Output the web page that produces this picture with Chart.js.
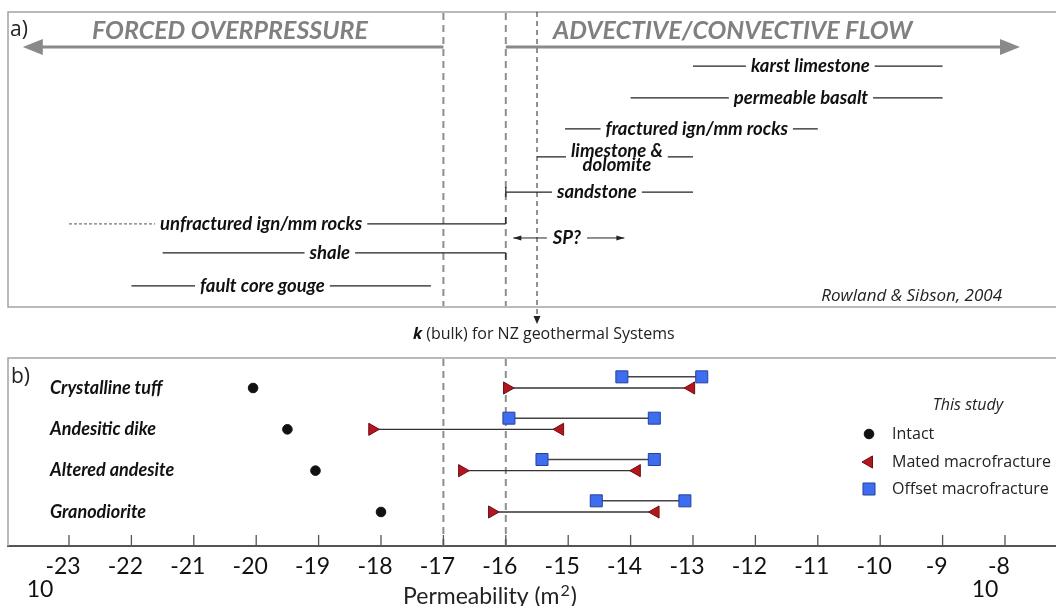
<!DOCTYPE html>
<html>
<head>
<meta charset="utf-8">
<script src="https://cdn.jsdelivr.net/npm/chart.js@4.4.0/dist/chart.umd.min.js"></script>
<style>
  html, body { margin: 0; padding: 0; background: #fff; overflow: hidden; }
  #wrap { width: 1056px; height: 606px; }
  canvas { display: block; }
</style>
</head>
<body>
<div id="wrap"><canvas id="permChart" width="1056" height="606"></canvas></div>
<script>
// log10 permeability (m²) axis
var tickValues = [-23, -22, -21, -20, -19, -18, -17, -16, -15, -14, -13, -12, -11, -10, -9, -8];

// a) literature ranges (Rowland & Sibson, 2004)
var rockNames = ['karst limestone', 'permeable basalt', 'fractured ign/mm rocks', 'limestone &|dolomite',
                 'sandstone', 'unfractured ign/mm rocks', 'shale', 'fault core gouge'];
var rockLow  = [-13, -14, -15.05, -15.5, -16, -21.6, -21.5, -22];
var rockHigh = [-9, -9, -11, -13, -13, -16, -16, -17.2];
var unfracturedTail = -23;
var spRange = [-15.88, -14.1];
var flowBoundary = [-17, -16];
var bulkK = -15.5;

// b) this study
var samples    = ['Crystalline tuff', 'Andesitic dike', 'Altered andesite', 'Granodiorite'];
var intact     = [-20.05, -19.5, -19.05, -18.0];
var matedLow   = [-15.98, -18.14, -16.7, -16.22];
var matedHigh  = [-13.03, -15.13, -13.9, -13.6];
var offsetLow  = [-14.14, -15.95, -15.42, -14.55];
var offsetHigh = [-12.86, -13.62, -13.62, -13.13];

// vertical layout: y runs downward, sample rows sit at 1..4
var rockRow = [-6.79, -6.02, -5.27, -4.59, -3.74, -2.97, -2.27, -1.47];
var spRow = -2.63;
var rockLabelAt = [-11.12, -11.27, -12.94, -14.22, -14.54, -19.92, -18.82, -19.9];
var spLabelAt = -15.02;
var offsetShift = -0.27;

var LABEL_FONT = 'italic bold 18.5px Lato';
var SAMPLE_FONT = 'italic bold 18px Lato';
var TEXT_FONT = '16px "Open Sans"';
var RED = '#b3161f', RED_EDGE = '#6e0c11';
var BLUE = '#3f6df0', BLUE_EDGE = '#23429c';

function put(ctx, str, x, y, font, color, align) {
  ctx.font = font;
  ctx.fillStyle = color;
  ctx.textAlign = align || 'left';
  ctx.textBaseline = 'middle';
  ctx.fillText(str, x, y);
}

function head(ctx, x, y, dx, dy, len, half) {
  // arrowhead with its tip at (x, y), pointing along (dx, dy)
  ctx.beginPath();
  ctx.moveTo(x, y);
  ctx.lineTo(x - dx * len - dy * half, y - dy * len + dx * half);
  ctx.lineTo(x - dx * len + dy * half, y - dy * len - dx * half);
  ctx.closePath();
  ctx.fill();
}

var datasets = [];

rockNames.forEach(function (name, i) {
  datasets.push({
    data: [{x: rockLow[i], y: rockRow[i]}, {x: rockHigh[i], y: rockRow[i]}],
    showLine: true, borderColor: '#222', borderWidth: 1.2, pointRadius: 0
  });
});
datasets.push({
  data: [{x: unfracturedTail, y: rockRow[5]}, {x: rockLow[5], y: rockRow[5]}],
  showLine: true, borderColor: '#555', borderWidth: 1, borderDash: [3, 2], pointRadius: 0
});
datasets.push({
  data: [{x: spRange[0], y: spRow}, {x: spRange[1], y: spRow}],
  showLine: true, borderColor: '#222', borderWidth: 1, pointRadius: 0
});

samples.forEach(function (name, i) {
  datasets.push({
    data: [{x: offsetLow[i], y: i + 1 + offsetShift}, {x: offsetHigh[i], y: i + 1 + offsetShift}],
    showLine: true, borderColor: '#444', borderWidth: 1.5,
    pointStyle: 'rect', pointRadius: 8.5, pointBackgroundColor: BLUE, pointBorderColor: BLUE_EDGE, pointBorderWidth: 1
  });
  datasets.push({
    data: [{x: matedLow[i], y: i + 1}, {x: matedHigh[i], y: i + 1}],
    showLine: true, borderColor: '#333', borderWidth: 1.3,
    pointStyle: 'triangle', pointRotation: [90, -90], pointRadius: 7,
    pointBackgroundColor: RED, pointBorderColor: RED_EDGE, pointBorderWidth: 1
  });
});
datasets.push({
  data: samples.map(function (s, i) { return {x: intact[i], y: i + 1}; }),
  pointStyle: 'circle', pointRadius: 4.8, pointBackgroundColor: '#111', pointBorderColor: '#111'
});

var decor = {
  id: 'decor',
  beforeDatasetsDraw: function (chart) {
    var ctx = chart.ctx, xs = chart.scales.x, area = chart.chartArea;
    ctx.save();
    // panel frames
    ctx.strokeStyle = '#a3a3a3';
    ctx.lineWidth = 1.5;
    ctx.strokeRect(area.left, 12, 1100, 295);
    ctx.beginPath();
    ctx.moveTo(area.left, area.bottom);
    ctx.lineTo(area.left, 358);
    ctx.lineTo(1056, 358);
    ctx.stroke();

    // regime boundaries
    ctx.strokeStyle = '#8e8e8e';
    ctx.lineWidth = 2;
    ctx.setLineDash([7, 5]);
    flowBoundary.forEach(function (v) {
      var x = xs.getPixelForValue(v);
      ctx.beginPath();
      ctx.moveTo(x, 13); ctx.lineTo(x, 306);
      ctx.moveTo(x, 359); ctx.lineTo(x, area.bottom);
      ctx.stroke();
    });

    // bulk permeability of NZ geothermal systems
    var xb = xs.getPixelForValue(bulkK);
    ctx.strokeStyle = '#222';
    ctx.lineWidth = 1;
    ctx.setLineDash([5, 4]);
    ctx.beginPath();
    ctx.moveTo(xb, 12); ctx.lineTo(xb, 317);
    ctx.stroke();
    ctx.setLineDash([]);
    ctx.fillStyle = '#222';
    head(ctx, xb, 324, 0, 1, 8, 3.5);

    // flow regime arrows
    ctx.strokeStyle = '#8a8a8a';
    ctx.fillStyle = '#8a8a8a';
    ctx.lineWidth = 3;
    var xl0 = xs.getPixelForValue(flowBoundary[0]), xl1 = xs.getPixelForValue(-23.74);
    var xr0 = xs.getPixelForValue(flowBoundary[1]), xr1 = xs.getPixelForValue(-7.76);
    ctx.beginPath();
    ctx.moveTo(xl0, 47); ctx.lineTo(xl1 + 12, 47);
    ctx.moveTo(xr0, 47); ctx.lineTo(xr1 - 12, 47);
    ctx.stroke();
    head(ctx, xl1, 47, -1, 0, 20, 8);
    head(ctx, xr1, 47, 1, 0, 20, 8);
    ctx.restore();
  },
  afterDatasetsDraw: function (chart) {
    var ctx = chart.ctx, xs = chart.scales.x, ys = chart.scales.y;
    ctx.save();

    // range labels sitting in gaps of their lines
    rockNames.forEach(function (name, i) {
      var x = xs.getPixelForValue(rockLabelAt[i]);
      var y = ys.getPixelForValue(rockRow[i]);
      var lines = name.split('|');
      ctx.font = LABEL_FONT;
      var w = Math.max.apply(null, lines.map(function (l) { return ctx.measureText(l).width; }));
      ctx.fillStyle = '#fff';
      if (lines.length === 1) {
        ctx.fillRect(x - w / 2 - 5, y - 9, w + 10, 18);
        put(ctx, name, x, y, LABEL_FONT, '#111', 'center');
      } else {
        ctx.fillRect(x - w / 2 - 5, y - 15, w + 10, 28);
        put(ctx, lines[0], x, y - 6, LABEL_FONT, '#111', 'center');
        put(ctx, lines[1], x, y + 8, LABEL_FONT, '#111', 'center');
      }
    });

    // end caps on the ranges that stop at 1e-16
    ctx.strokeStyle = '#222';
    ctx.lineWidth = 1.2;
    var xc = xs.getPixelForValue(-16);
    var ys4 = ys.getPixelForValue(rockRow[4]), ys5 = ys.getPixelForValue(rockRow[5]), ys6 = ys.getPixelForValue(rockRow[6]);
    ctx.beginPath();
    ctx.moveTo(xc, ys4 - 5); ctx.lineTo(xc, ys4 + 5);
    ctx.moveTo(xc, ys5); ctx.lineTo(xc, ys5 - 7);
    ctx.moveTo(xc, ys6); ctx.lineTo(xc, ys6 + 7);
    ctx.stroke();

    // SP? double arrow
    var ysp = ys.getPixelForValue(spRow), xsp = xs.getPixelForValue(spLabelAt);
    ctx.font = LABEL_FONT;
    var sw = ctx.measureText('SP?').width;
    ctx.fillStyle = '#fff';
    ctx.fillRect(xsp - sw / 2 - 6, ysp - 9, sw + 12, 18);
    put(ctx, 'SP?', xsp, ysp, LABEL_FONT, '#111', 'center');
    ctx.fillStyle = '#222';
    head(ctx, xs.getPixelForValue(spRange[0]), ysp, -1, 0, 8, 2.5);
    head(ctx, xs.getPixelForValue(spRange[1]), ysp, 1, 0, 8, 2.5);

    // sample names
    samples.forEach(function (name, i) {
      put(ctx, name, 50, ys.getPixelForValue(i + 1), SAMPLE_FONT, '#111', 'left');
    });

    // legend
    put(ctx, 'This study', 968, 405, 'italic 16px "Open Sans"', '#222', 'center');
    var items = [
      {label: 'Intact', style: 'circle', r: 4.8, rot: 0, fill: '#111', edge: '#111', y: 434},
      {label: 'Mated macrofracture', style: 'triangle', r: 7, rot: -90, fill: RED, edge: RED_EDGE, y: 462},
      {label: 'Offset macrofracture', style: 'rect', r: 8.5, rot: 0, fill: BLUE, edge: BLUE_EDGE, y: 489}
    ];
    items.forEach(function (it) {
      ctx.fillStyle = it.fill;
      ctx.strokeStyle = it.edge;
      ctx.lineWidth = 1;
      Chart.helpers.drawPoint(ctx, {pointStyle: it.style, radius: it.r, rotation: it.rot, borderWidth: 1}, 869, it.y);
      put(ctx, it.label, 892, it.y, TEXT_FONT, '#222', 'left');
    });
    ctx.restore();
  },
  afterDraw: function (chart) {
    var ctx = chart.ctx, xs = chart.scales.x, area = chart.chartArea;
    ctx.save();
    put(ctx, 'a)', 10, 30, '21px "Open Sans"', '#222', 'left');
    put(ctx, 'b)', 11, 377, '21px "Open Sans"', '#222', 'left');
    put(ctx, 'FORCED OVERPRESSURE', 92, 31, 'italic bold 25px Lato', '#808080', 'left');
    put(ctx, 'ADVECTIVE/CONVECTIVE FLOW', 553, 31, 'italic bold 25px Lato', '#808080', 'left');
    put(ctx, 'Rowland & Sibson, 2004', 1002, 296, 'italic 17px "Open Sans"', '#222', 'right');

    ctx.font = 'italic bold 16px "Open Sans"';
    var kw = ctx.measureText('k').width;
    put(ctx, 'k', 413, 334, 'italic bold 16px "Open Sans"', '#111', 'left');
    put(ctx, ' (bulk) for NZ geothermal Systems', 413 + kw, 334, TEXT_FONT, '#222', 'left');

    // tick marks point into the plot
    ctx.strokeStyle = '#555';
    ctx.lineWidth = 1.3;
    ctx.beginPath();
    xs.ticks.forEach(function (t) {
      var x = xs.getPixelForValue(t.value);
      ctx.moveTo(x, area.bottom);
      ctx.lineTo(x, area.bottom - 11);
    });
    ctx.stroke();

    put(ctx, '10', xs.getPixelForValue(-23) - 29, 590, '23px Lato', '#111', 'center');
    put(ctx, '10', xs.getPixelForValue(-8) - 20, 590, '23px Lato', '#111', 'center');

    // axis title with a raised exponent
    ctx.font = '23px Lato';
    var t1 = 'Permeability (m', w1 = ctx.measureText(t1).width;
    var w2 = ctx.measureText(')').width;
    ctx.font = '16px Lato';
    var we = ctx.measureText('2').width;
    var x0 = xs.getPixelForValue(-16.27) - (w1 + we + w2) / 2;
    put(ctx, t1, x0, 597, '23px Lato', '#222', 'left');
    put(ctx, '2', x0 + w1 + 1, 591, '16px Lato', '#222', 'left');
    put(ctx, ')', x0 + w1 + we + 2, 597, '23px Lato', '#222', 'left');
    ctx.restore();
  }
};

new Chart(document.getElementById('permChart').getContext('2d'), {
  type: 'scatter',
  data: { datasets: datasets },
  options: {
    responsive: false,
    animation: false,
    events: [],
    layout: { autoPadding: false, padding: { left: 8, right: 0, top: 0, bottom: 18.4 } },
    plugins: { legend: { display: false }, tooltip: { enabled: false } },
    scales: {
      x: {
        type: 'linear',
        min: -23.9776,
        max: -7.1827,
        afterBuildTicks: function (scale) {
          scale.ticks = tickValues.map(function (v) { return {value: v}; });
        },
        ticks: {
          autoSkip: false, maxRotation: 0, padding: 7, labelOffset: -6,
          color: '#111', font: { family: 'Lato', size: 23 },
          callback: function (v) { return String(v); }
        },
        grid: { drawOnChartArea: false, drawTicks: false },
        border: { display: true, color: '#555', width: 2 }
      },
      y: {
        type: 'linear',
        display: false,
        reverse: true,
        min: -8.388,
        max: 4.823
      }
    }
  },
  plugins: [decor]
});
</script>
</body>
</html>
